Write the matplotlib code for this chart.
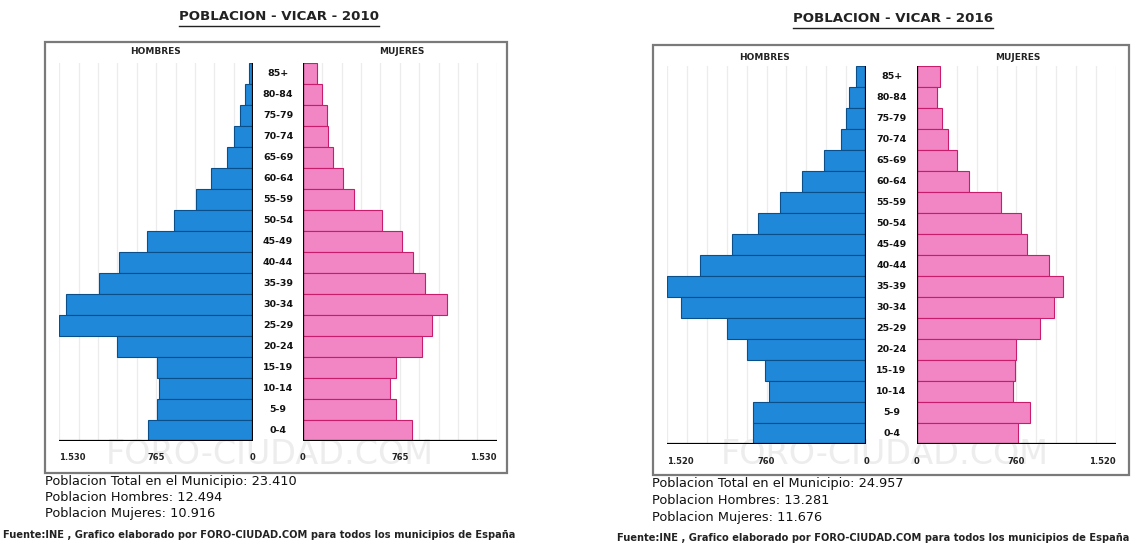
import matplotlib
matplotlib.use("Agg")
import matplotlib.pyplot as plt
from matplotlib.patches import Rectangle
from matplotlib.lines import Line2D

W, H = 1141, 546

grupos = ['85+', '80-84', '75-79', '70-74', '65-69', '60-64', '55-59', '50-54',
          '45-49', '40-44', '35-39', '30-34', '25-29', '20-24', '15-19', '10-14',
          '5-9', '0-4']

# 2010
hombres_2010 = [32, 63, 103, 150, 205, 332, 450, 624, 837, 1059, 1217, 1477,
                1530, 1074, 758, 743, 758, 830]
mujeres_2010 = [111, 150, 190, 198, 237, 316, 403, 624, 782, 869, 964, 1138,
                1019, 940, 735, 687, 735, 861]
escala_2010 = 1530
totales_2010 = ['23.410', '12.494', '10.916']

# 2016
hombres_2016 = [76, 130, 153, 191, 321, 489, 657, 825, 1024, 1268, 1520, 1413,
                1062, 909, 772, 741, 863, 863]
mujeres_2016 = [176, 153, 191, 237, 306, 397, 642, 795, 840, 1008, 1115, 1047,
                940, 756, 749, 733, 863, 772]
escala_2016 = 1520
totales_2016 = ['24.957', '13.281', '11.676']

AZUL = '#2088d8'
AZUL_BORDE = '#0b4f8a'
ROSA = '#f285c4'
ROSA_BORDE = '#c81c6c'

fig = plt.figure(figsize=(W / 100, H / 100), dpi=100)
fig.patch.set_facecolor('white')


def fx(px):
    return px / W


def fy(py):
    return 1 - py / H


def fmt(v):
    s = str(v)
    if len(s) > 3:
        s = s[:-3] + '.' + s[-3:]
    return s


def piramide(anio, hombres, mujeres, maximo, totales, cfg):
    x0, x1, y0, y1 = cfg['marco']
    # marco
    fig.patches.append(Rectangle((fx(x0), fy(y1)), fx(x1 - x0), (y1 - y0) / H,
                                 transform=fig.transFigure, fill=False,
                                 edgecolor='#7a7a7a', lw=1.6, zorder=1))

    # marca de agua (detras de todo)
    fig.text(fx(cfg['agua']), fy(455), 'FORO-CIUDAD.COM', fontsize=24,
             color='#ededed', ha='center', va='center', zorder=-5)

    top, bot = cfg['barras']
    zh, zm, px = cfg['ceros'][0], cfg['ceros'][1], cfg['px']
    ancho = maximo / px
    alto = (bot - top) / H
    ax_h = fig.add_axes([fx(zh - ancho), fy(bot), fx(ancho), alto])
    ax_m = fig.add_axes([fx(zm), fy(bot), fx(ancho), alto])

    pos = list(range(len(grupos)))[::-1]
    ax_h.barh(pos, hombres, height=1.0, color=AZUL, edgecolor=AZUL_BORDE, lw=0.8, zorder=3)
    ax_m.barh(pos, mujeres, height=1.0, color=ROSA, edgecolor=ROSA_BORDE, lw=0.8, zorder=3)

    for ax in (ax_h, ax_m):
        ax.set_ylim(-0.5, len(grupos) - 0.5)
        ax.set_xlim(0, maximo)
        ax.set_facecolor('none')
        for s in ax.spines.values():
            s.set_visible(False)
        ax.set_yticks([])
        for k in range(1, 11):
            ax.axvline(maximo * k / 10, color='#ececec', lw=0.9, zorder=1)
        ax.axvline(0, color='black', lw=1.6, zorder=4)
        ax.axhline(-0.5, color='black', lw=1.6, zorder=4)
        ax.set_xticks([0, maximo / 2, maximo])
        ax.set_xticklabels(['0', fmt(maximo // 2), fmt(maximo)],
                           fontsize=6, fontweight='bold', color='#222222')
        ax.tick_params(axis='x', length=0, pad=9)
    ax_h.invert_xaxis()
    ax_h.get_xticklabels()[2].set_ha('left')
    ax_m.get_xticklabels()[2].set_ha('right')

    # etiquetas de edad
    cx = (zh + zm) / 2
    for i, g in enumerate(grupos):
        yc = top + (i + 0.5) * (bot - top) / len(grupos)
        fig.text(fx(cx), fy(yc), g, fontsize=6.8, fontweight='bold',
                 ha='center', va='center', color='#111111')

    fig.text(fx(cfg['hom']), fy(cfg['sexo_y']), 'HOMBRES', fontsize=6.5,
             fontweight='bold', ha='center', va='center', color='#222222')
    fig.text(fx(cfg['muj']), fy(cfg['sexo_y']), 'MUJERES', fontsize=6.5,
             fontweight='bold', ha='center', va='center', color='#222222')

    # titulo subrayado
    t = fig.text(fx(cfg['titulo'][0]), fy(cfg['titulo'][1]),
                 'POBLACION - VICAR - ' + str(anio), fontsize=9.6,
                 fontweight='bold', ha='center', va='center', color='#222222')
    cfg['_titulo'] = t

    tx, ty = cfg['texto']
    lineas = ['Poblacion Total en el Municipio: ' + totales[0],
              'Poblacion Hombres: ' + totales[1],
              'Poblacion Mujeres: ' + totales[2]]
    for i, l in enumerate(lineas):
        fig.text(fx(tx), fy(ty + i * 16.5), l, fontsize=9.3, ha='left',
                 va='center', color='#111111')
    fig.text(fx(cfg['fuente'][0]), fy(cfg['fuente'][1]),
             'Fuente:INE , Grafico elaborado por FORO-CIUDAD.COM para todos los municipios de España',
             fontsize=7.1, fontweight='bold', ha='left', va='center', color='#222222')


cfg_2010 = dict(marco=(45, 507, 42, 473), agua=270, barras=(63, 441),
                ceros=(253, 303), px=7.9, hom=155, muj=402, sexo_y=52,
                titulo=(279, 17), texto=(45, 481), fuente=(3, 535))
cfg_2016 = dict(marco=(653, 1129, 45, 475), agua=885, barras=(66, 444),
                ceros=(866, 917), px=7.64, hom=765, muj=1018, sexo_y=57,
                titulo=(893, 19), texto=(652, 484), fuente=(617, 538))

piramide(2010, hombres_2010, mujeres_2010, escala_2010, totales_2010, cfg_2010)
piramide(2016, hombres_2016, mujeres_2016, escala_2016, totales_2016, cfg_2016)

fig.canvas.draw()
r = fig.canvas.get_renderer()
for c in (cfg_2010, cfg_2016):
    bb = c['_titulo'].get_window_extent(r)
    yl = bb.y0 - 2
    fig.lines.append(Line2D([bb.x0 / W, bb.x1 / W], [yl / H, yl / H],
                            transform=fig.transFigure, color='#222222', lw=1))

fig.savefig('out.png', dpi=100, facecolor='white')
